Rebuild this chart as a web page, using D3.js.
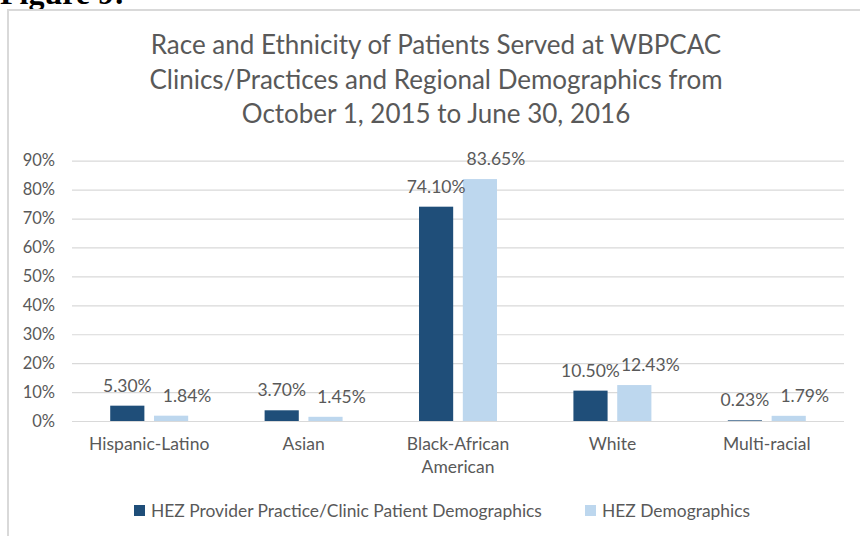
<!DOCTYPE html>
<html>
<head>
<meta charset="utf-8">
<script src="https://d3js.org/d3.v7.min.js"></script>
<style>
  * { margin: 0; padding: 0; }
  body { background: #fff; }
  svg { display: block; }
  .chart text { font-family: Lato, 'Open Sans', sans-serif; fill: #595959; }
  .chart text.fig { font-family: 'Liberation Serif', 'Times New Roman', serif; font-weight: bold; fill: #000; }
</style>
</head>
<body>
<div id="chart"></div>
<script>
const categories = ["Hispanic-Latino", "Asian", "Black-African\nAmerican", "White", "Multi-racial"];
const seriesNames = ["HEZ Provider Practice/Clinic Patient Demographics", "HEZ Demographics"];
const practiceValues = [5.30, 3.70, 74.10, 10.50, 0.23];
const regionValues = [1.84, 1.45, 83.65, 12.43, 1.79];
const yTicks = [0, 10, 20, 30, 40, 50, 60, 70, 80, 90];
const titleLines = [
  "Race and Ethnicity of Patients Served at WBPCAC",
  "Clinics/Practices and Regional Demographics from",
  "October 1, 2015 to June 30, 2016"
];
const colors = ["#1f4e79", "#bdd7ee"];

const W = 860, H = 536;
const plotLeft = 72, plotRight = 844, plotTop = 160.7, plotBottom = 421;

const svg = d3.select("#chart").append("svg")
  .attr("width", W).attr("height", H)
  .attr("class", "chart");

// caption above the chart box (cut off by the page top)
svg.append("text").attr("class", "fig")
  .attr("x", 0).attr("y", 4)
  .style("font-size", "32px")
  .text("Figure 9:");

// chart border
svg.append("rect")
  .attr("x", 8).attr("y", 10)
  .attr("width", 900).attr("height", 600)
  .attr("fill", "none")
  .attr("stroke", "#d9d9d9")
  .attr("stroke-width", 2);

// title
svg.append("g").selectAll("text")
  .data(titleLines)
  .enter().append("text")
  .attr("x", 436)
  .attr("y", (d, i) => 54 + i * 34.5)
  .attr("text-anchor", "middle")
  .style("font-size", "26px")
  .text(d => d);

const y = d3.scaleLinear().domain([0, 90]).range([plotBottom, plotTop]);
const x0 = d3.scaleBand().domain(categories).range([plotLeft, plotRight])
  .paddingInner(0.495).paddingOuter(0.2475);
const x1 = d3.scaleBand().domain([0, 1]).range([0, x0.bandwidth()]).paddingInner(0.22);

// y axis + gridlines
const yAxis = svg.append("g")
  .attr("transform", "translate(" + plotLeft + ",0)")
  .call(d3.axisLeft(y).tickValues(yTicks).tickSize(-(plotRight - plotLeft)).tickPadding(17)
    .tickFormat(d => d + "%"));
yAxis.select(".domain").remove();
yAxis.selectAll(".tick line").attr("stroke", "#d9d9d9").attr("stroke-width", 1.2);
yAxis.selectAll(".tick text").style("font-size", "16.5px");

// x axis labels
const xAxis = svg.append("g")
  .attr("transform", "translate(0," + plotBottom + ")")
  .call(d3.axisBottom(x0).tickSize(0).tickFormat(""));
xAxis.select(".domain").remove();
xAxis.selectAll(".tick").each(function(d) {
  const t = d3.select(this).append("text")
    .attr("text-anchor", "middle")
    .attr("y", 29)
    .style("font-size", "17.5px");
  d.split("\n").forEach((line, i) => {
    t.append("tspan").attr("x", 0).attr("dy", i === 0 ? 0 : 23).text(line);
  });
});

// bars
const rows = categories.map((c, i) => ({ cat: c, vals: [practiceValues[i], regionValues[i]] }));
const groups = svg.append("g").selectAll("g")
  .data(rows)
  .enter().append("g")
  .attr("transform", d => "translate(" + x0(d.cat) + ",0)");

groups.selectAll("rect")
  .data(d => d.vals.map((v, s) => ({ v, s })))
  .enter().append("rect")
  .attr("x", d => x1(d.s))
  .attr("y", d => y(d.v))
  .attr("width", x1.bandwidth())
  .attr("height", d => plotBottom - y(d.v))
  .attr("fill", d => colors[d.s]);

// value labels (light series labels nudged right, as in the original)
groups.selectAll("text.val")
  .data(d => d.vals.map((v, s) => ({ v, s })))
  .enter().append("text")
  .attr("class", "val")
  .attr("x", d => x1(d.s) + x1.bandwidth() / 2 + (d.s === 1 ? 16 : 0))
  .attr("y", d => y(d.v) - 14)
  .attr("text-anchor", "middle")
  .style("font-size", "17.5px")
  .text(d => d.v.toFixed(2) + "%");

// legend
const legendX = [134, 585];
const legend = svg.append("g").selectAll("g")
  .data(seriesNames)
  .enter().append("g")
  .attr("transform", (d, i) => "translate(" + legendX[i] + ",504)");
legend.append("rect")
  .attr("width", 11).attr("height", 11).attr("y", 1)
  .attr("fill", (d, i) => colors[i]);
legend.append("text")
  .attr("x", 17).attr("y", 13)
  .style("font-size", "17.4px")
  .text(d => d);
</script>
</body>
</html>
